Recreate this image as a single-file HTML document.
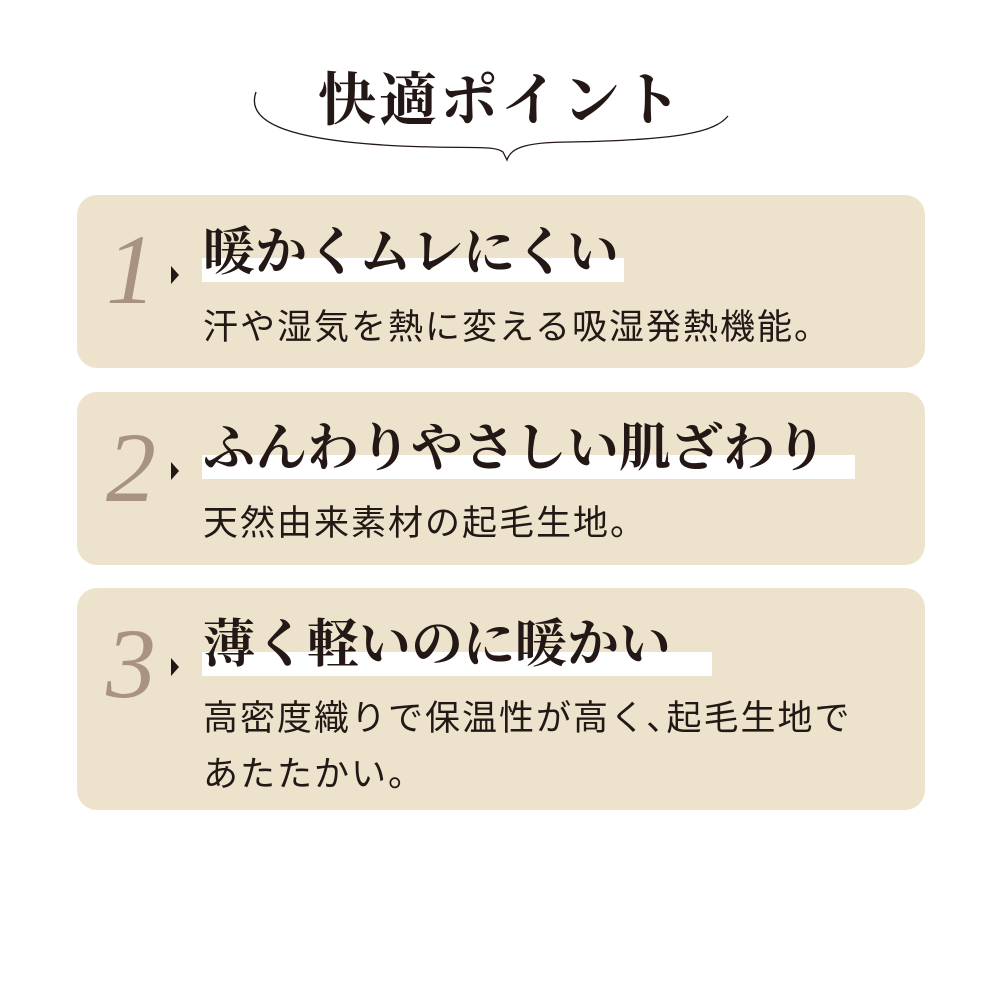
<!DOCTYPE html>
<html><head><meta charset="utf-8"><style>
body{margin:0;width:1000px;height:1000px;background:#fff;position:relative;overflow:hidden}
.abs{position:absolute}
.card{position:absolute;left:77px;width:848px;background:#ede3cc;border-radius:20px}
.num{position:absolute;font-family:"Liberation Serif",serif;font-style:italic;color:#a89282;font-size:100px;line-height:1;left:106px}
.tri{position:absolute;left:171px;width:0;height:0;border-top:9px solid transparent;border-bottom:9px solid transparent;border-left:8px solid #231815}
.bar{position:absolute;left:202px;height:24px;background:#fff}
.hd{position:absolute;left:203px;font-family:"Liberation Serif","Noto Serif CJK JP",serif;font-weight:bold;font-size:52px;line-height:1;color:#231815;white-space:nowrap}
.sub{position:absolute;left:203px;font-family:"Liberation Sans","Noto Sans CJK JP",sans-serif;font-size:35px;letter-spacing:2px;line-height:1;color:#231815;white-space:nowrap}
</style></head><body>
<div class="abs" style="left:318px;top:72px;font-family:'Liberation Serif','Noto Serif CJK JP',serif;font-weight:bold;font-size:58px;letter-spacing:3px;line-height:1;color:#231815;white-space:nowrap">快適ポイント</div>
<svg class="abs" style="left:0;top:0" width="1000" height="200"><path d="M256,92 C246,120 280,140 400,146 C470,149 495,145 503,152 L507,160 C510,150 520,142 570,142 C680,140 715,132 728,116" fill="none" stroke="#231815" stroke-width="1.3"/></svg>

<div class="card" style="top:195px;height:173px"></div>
<div class="card" style="top:392px;height:173px"></div>
<div class="card" style="top:588px;height:222px"></div>

<div class="num" style="top:220px">1</div>
<div class="tri" style="top:266px"></div>
<div class="bar" style="top:258px;width:422px"></div>
<div class="hd" style="top:228px">暖かくムレにくい</div>
<div class="sub" style="top:310px">汗や湿気を熱に変える吸湿発熱機能。</div>

<div class="num" style="top:418px">2</div>
<div class="tri" style="top:462px"></div>
<div class="bar" style="top:455px;width:653px"></div>
<div class="hd" style="top:424px">ふんわりやさしい肌ざわり</div>
<div class="sub" style="top:506px">天然由来素材の起毛生地。</div>

<div class="num" style="top:614px">3</div>
<div class="tri" style="top:658px"></div>
<div class="bar" style="top:652px;width:510px"></div>
<div class="hd" style="top:620px">薄く軽いのに暖かい</div>
<div class="sub" style="top:701px">高密度織りで保温性が高く､起毛生地で</div>
<div class="sub" style="top:757px">あたたかい。</div>
</body></html>
